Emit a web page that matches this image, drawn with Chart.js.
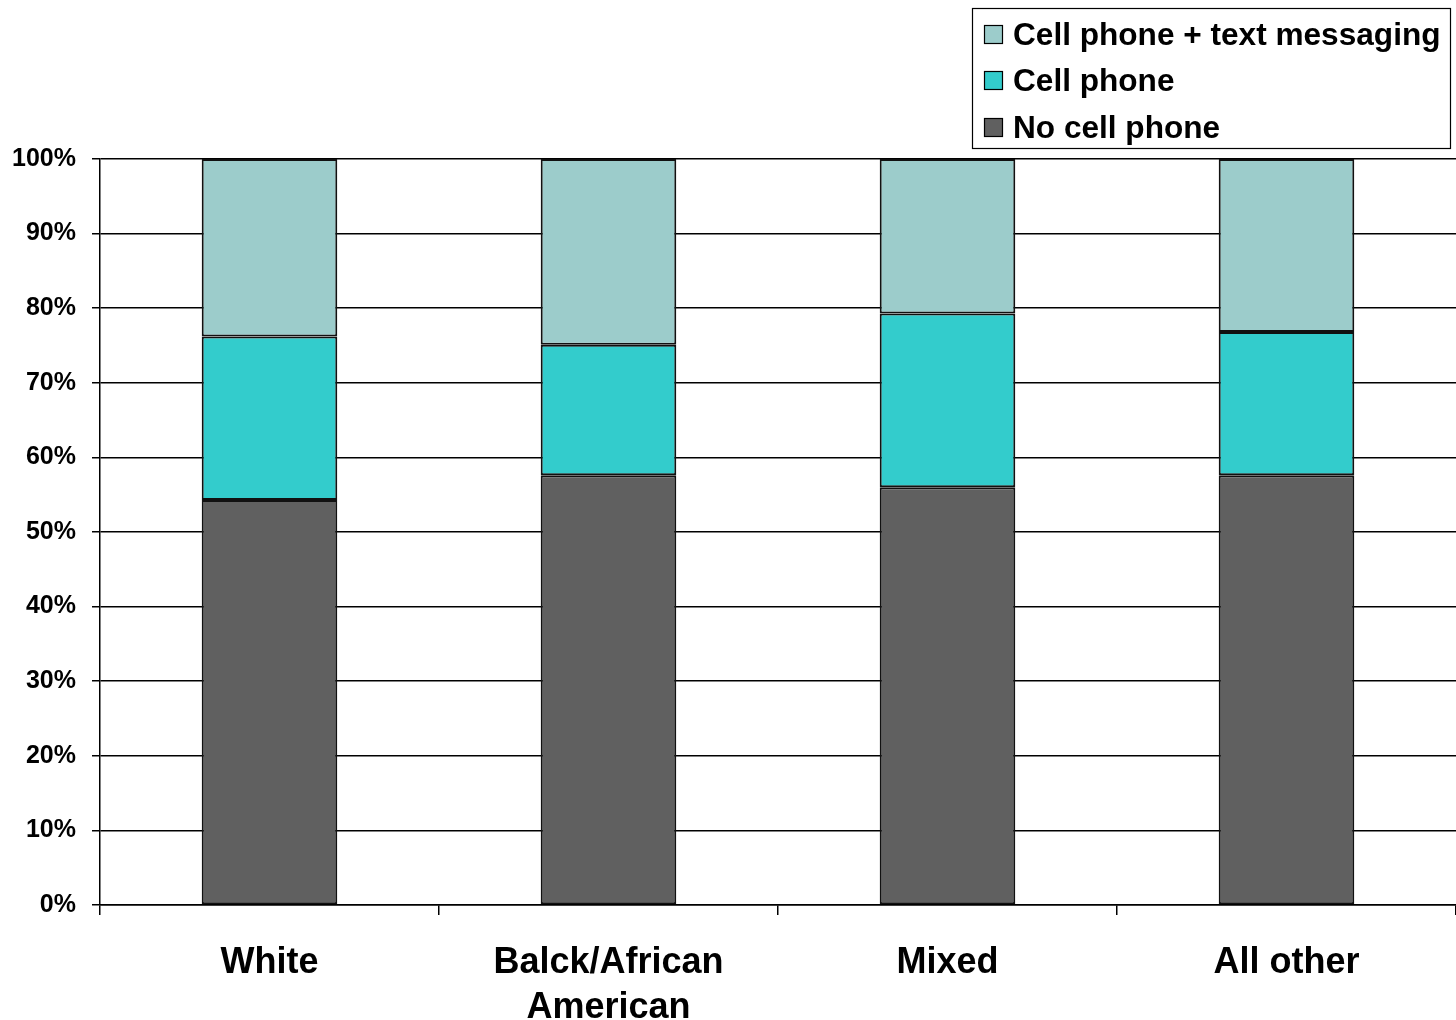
<!DOCTYPE html>
<html>
<head>
<meta charset="utf-8">
<script src="https://cdn.jsdelivr.net/npm/chart.js@4/dist/chart.umd.min.js"></script>
<style>
html,body{margin:0;padding:0;background:#fff;}
#wrap{position:relative;width:1456px;height:1020px;}
</style>
</head>
<body>
<div id="wrap"><canvas id="c" width="1456" height="1020"></canvas></div>
<script>
const categories = [["White"], ["Balck/African", "American"], ["Mixed"], ["All other"]];
const seriesNames = ["No cell phone", "Cell phone", "Cell phone + text messaging"];
const noCellPhone = [54.3, 57.6, 56.0, 57.6];
const cellPhone = [21.9, 17.5, 23.3, 19.2];
const cellPhoneText = [23.8, 24.9, 20.7, 23.2];
const yTicks = [0, 10, 20, 30, 40, 50, 60, 70, 80, 90, 100];
const colors = ["#606060", "#33CCCC", "#9CCCCB"];

const FONT = "'Liberation Sans', Arial, sans-serif";

const boxLegend = {
  id: 'boxLegend',
  afterDraw(chart) {
    const ctx = chart.ctx;
    const x0 = 972.5, y0 = 8.5, w = 478, h = 140;
    ctx.save();
    ctx.fillStyle = '#fff';
    ctx.fillRect(x0, y0, w, h);
    ctx.strokeStyle = '#000';
    ctx.lineWidth = 1.2;
    ctx.strokeRect(x0, y0, w, h);
    const ds = chart.data.datasets.slice().reverse();
    const rows = [35, 81, 128];
    ctx.font = "bold 31.6px " + FONT;
    ctx.textBaseline = 'middle';
    ds.forEach((d, i) => {
      const y = rows[i];
      ctx.fillStyle = d.backgroundColor;
      ctx.fillRect(984.5, y - 9.5, 18, 18);
      ctx.strokeStyle = '#000';
      ctx.lineWidth = 1.2;
      ctx.strokeRect(984.5, y - 9.5, 18, 18);
      ctx.fillStyle = '#000';
      ctx.fillText(d.label, 1013, y + 1);
    });
    ctx.restore();
  }
};

new Chart(document.getElementById('c'), {
  type: 'bar',
  data: {
    labels: categories,
    datasets: [
      { label: seriesNames[0], data: noCellPhone, backgroundColor: colors[0] },
      { label: seriesNames[1], data: cellPhone, backgroundColor: colors[1] },
      { label: seriesNames[2], data: cellPhoneText, backgroundColor: colors[2] }
    ].map(d => Object.assign(d, { borderColor: '#111', borderWidth: 2, borderSkipped: false, barPercentage: 0.4, categoryPercentage: 1.0 }))
  },
  options: {
    responsive: false,
    animation: false,
    devicePixelRatio: 1,
    layout: { padding: { top: 159, left: 0, right: 0, bottom: 0 } },
    plugins: { legend: { display: false }, tooltip: { enabled: false } },
    scales: {
      x: {
        stacked: true,
        afterFit(scale) { scale.height = 115; },
        grid: { offset: true, drawOnChartArea: false, color: '#000', lineWidth: 1.5, tickLength: 10 },
        border: { color: '#000', width: 1.5 },
        ticks: { color: '#000', font: { family: FONT, size: 36, weight: 'bold', lineHeight: 1.25 }, padding: 26, maxRotation: 0, autoSkip: false }
      },
      y: {
        stacked: true,
        min: 0, max: 100,
        afterBuildTicks(scale) { scale.ticks = yTicks.map(v => ({ value: v })); },
        afterFit(scale) { scale.width = 100; },
        grid: { color: '#000', lineWidth: 1.5, tickLength: 8 },
        border: { color: '#000', width: 1.5 },
        ticks: { color: '#000', font: { family: FONT, size: 25, weight: 'bold' }, padding: 16, callback: v => v + '%' }
      }
    }
  },
  plugins: [boxLegend]
});
</script>
</body>
</html>
